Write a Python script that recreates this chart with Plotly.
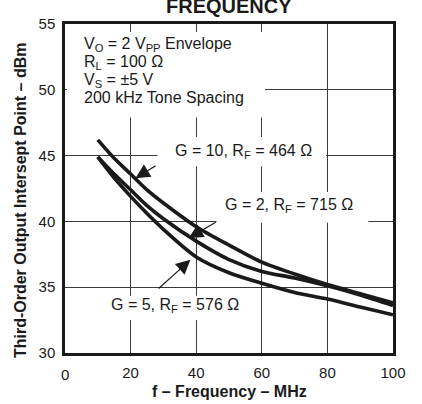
import plotly.graph_objects as go

# ---- data ----
freq_mhz = [10, 15, 20, 25, 30, 40, 50, 60, 70, 80, 90, 100]
oip3_g10 = [46.2, 44.8, 43.6, 42.4, 41.4, 39.6, 38.2, 36.9, 36.0, 35.2, 34.5, 33.8]
oip3_g2 = [44.9, 43.6, 42.4, 41.2, 40.2, 38.5, 37.1, 36.2, 35.7, 35.1, 34.4, 33.6]
oip3_g5 = [44.9, 43.3, 41.9, 40.6, 39.4, 37.3, 36.1, 35.3, 34.6, 34.1, 33.5, 32.9]

series_names = ["G = 10, R<sub>F</sub> = 464 Ω",
                "G = 2, R<sub>F</sub> = 715 Ω",
                "G = 5, R<sub>F</sub> = 576 Ω"]

x_tick_vals = [20, 40, 60, 80, 100]
y_tick_vals = [30, 35, 40, 45, 50, 55]

cond_lines = ["V<sub>O</sub> = 2 V<sub>PP</sub> Envelope",
              "R<sub>L</sub> = 100 Ω",
              "V<sub>S</sub> = ±5 V",
              "200 kHz Tone Spacing"]

FONT = "Liberation Sans, Arial, Helvetica, sans-serif"
INK = "#1a1a1a"

fig = go.Figure()
for ys, name in zip([oip3_g10, oip3_g2, oip3_g5], series_names):
    fig.add_trace(go.Scatter(x=freq_mhz, y=ys, mode="lines", name=name,
                             line=dict(color=INK, width=3.6, shape="spline", smoothing=0.8),
                             showlegend=False, hoverinfo="skip"))

shapes = []
# white boxes behind the texts (hide gridlines)
for x0, x1, y0, y1 in [(0.6, 61.0, 47.9, 54.4),
                       (28.2, 79.6, 44.2, 46.42),
                       (46.2, 92.5, 39.9, 42.24),
                       (10.8, 56.5, 32.5, 34.35)]:
    shapes.append(dict(type="rect", xref="x", yref="y", x0=x0, x1=x1, y0=y0, y1=y1,
                       fillcolor="white", line=dict(width=0), layer="between"))

annotations = []
cond_y = [53.41, 52.04, 50.67, 49.38]
for txt, yy in zip(cond_lines, cond_y):
    annotations.append(dict(x=5.2, y=yy, xref="x", yref="y", text=txt, showarrow=False,
                            xanchor="left", yanchor="middle",
                            font=dict(family=FONT, size=16, color=INK)))

label_pos = [(54.4, 45.3), (68.4, 41.2), (33.6, 33.6)]
for name, (lx, ly) in zip(series_names, label_pos):
    annotations.append(dict(x=lx, y=ly, xref="x", yref="y", text=name, showarrow=False,
                            xanchor="center", yanchor="middle",
                            font=dict(family=FONT, size=16, color=INK)))

# arrows: (tip x, tip y, tail x, tail y)
arrows = [(21.47, 43.28, 28.1, 44.29),
          (37.72, 38.73, 46.39, 40.0),
          (38.24, 37.08, 28.09, 34.80)]
for tx, ty, axx, ayy in arrows:
    annotations.append(dict(x=tx, y=ty, ax=axx, ay=ayy, xref="x", yref="y",
                            axref="x", ayref="y", text="", showarrow=True,
                            arrowhead=2, arrowsize=2.4, arrowwidth=1.2,
                            arrowcolor=INK, standoff=0, startstandoff=0))

# title (cut off at top), axis titles, lowered "0" tick label
annotations.append(dict(x=0.5, y=1.0155, xref="paper", yref="paper", text="<b>FREQUENCY</b>",
                        showarrow=False, xanchor="center", yanchor="bottom",
                        font=dict(family=FONT, size=20, color=INK)))
annotations.append(dict(x=0.5, y=-0.1175, xref="paper", yref="paper",
                        text="<b>f – Frequency – MHz</b>", showarrow=False,
                        xanchor="center", yanchor="middle",
                        font=dict(family=FONT, size=16, color=INK)))
annotations.append(dict(x=-0.137, y=0.465, xref="paper", yref="paper",
                        text="<b>Third-Order Output Intersept Point – dBm</b>", showarrow=False,
                        xanchor="center", yanchor="middle", textangle=-90,
                        font=dict(family=FONT, size=16, color=INK)))
annotations.append(dict(x=0, y=-0.066, xref="x", yref="paper", text="0", showarrow=False,
                        xanchor="center", yanchor="middle",
                        font=dict(family=FONT, size=15, color=INK)))

fig.update_layout(
    width=422, height=404,
    margin=dict(l=65, r=29, t=24, b=51),
    paper_bgcolor="white", plot_bgcolor="white",
    shapes=shapes, annotations=annotations,
    font=dict(family=FONT, color=INK),
)
fig.update_xaxes(range=[0, 100], tickvals=x_tick_vals, showgrid=True, gridcolor="#3a3a3a",
                 gridwidth=1, showline=True, mirror=True, linecolor=INK, linewidth=2.5,
                 ticks="", zeroline=False, ticklabelstandoff=4,
                 tickfont=dict(family=FONT, size=15, color=INK))
fig.update_yaxes(range=[30, 55], tickvals=y_tick_vals, showgrid=True, gridcolor="#3a3a3a",
                 gridwidth=1, showline=True, mirror=True, linecolor=INK, linewidth=2.5,
                 ticks="", zeroline=False, ticklabelstandoff=4,
                 tickfont=dict(family=FONT, size=15, color=INK))

fig.write_html("out.html", config={"displayModeBar": False},
               post_script="document.body.style.margin='0';document.body.style.padding='0';")
